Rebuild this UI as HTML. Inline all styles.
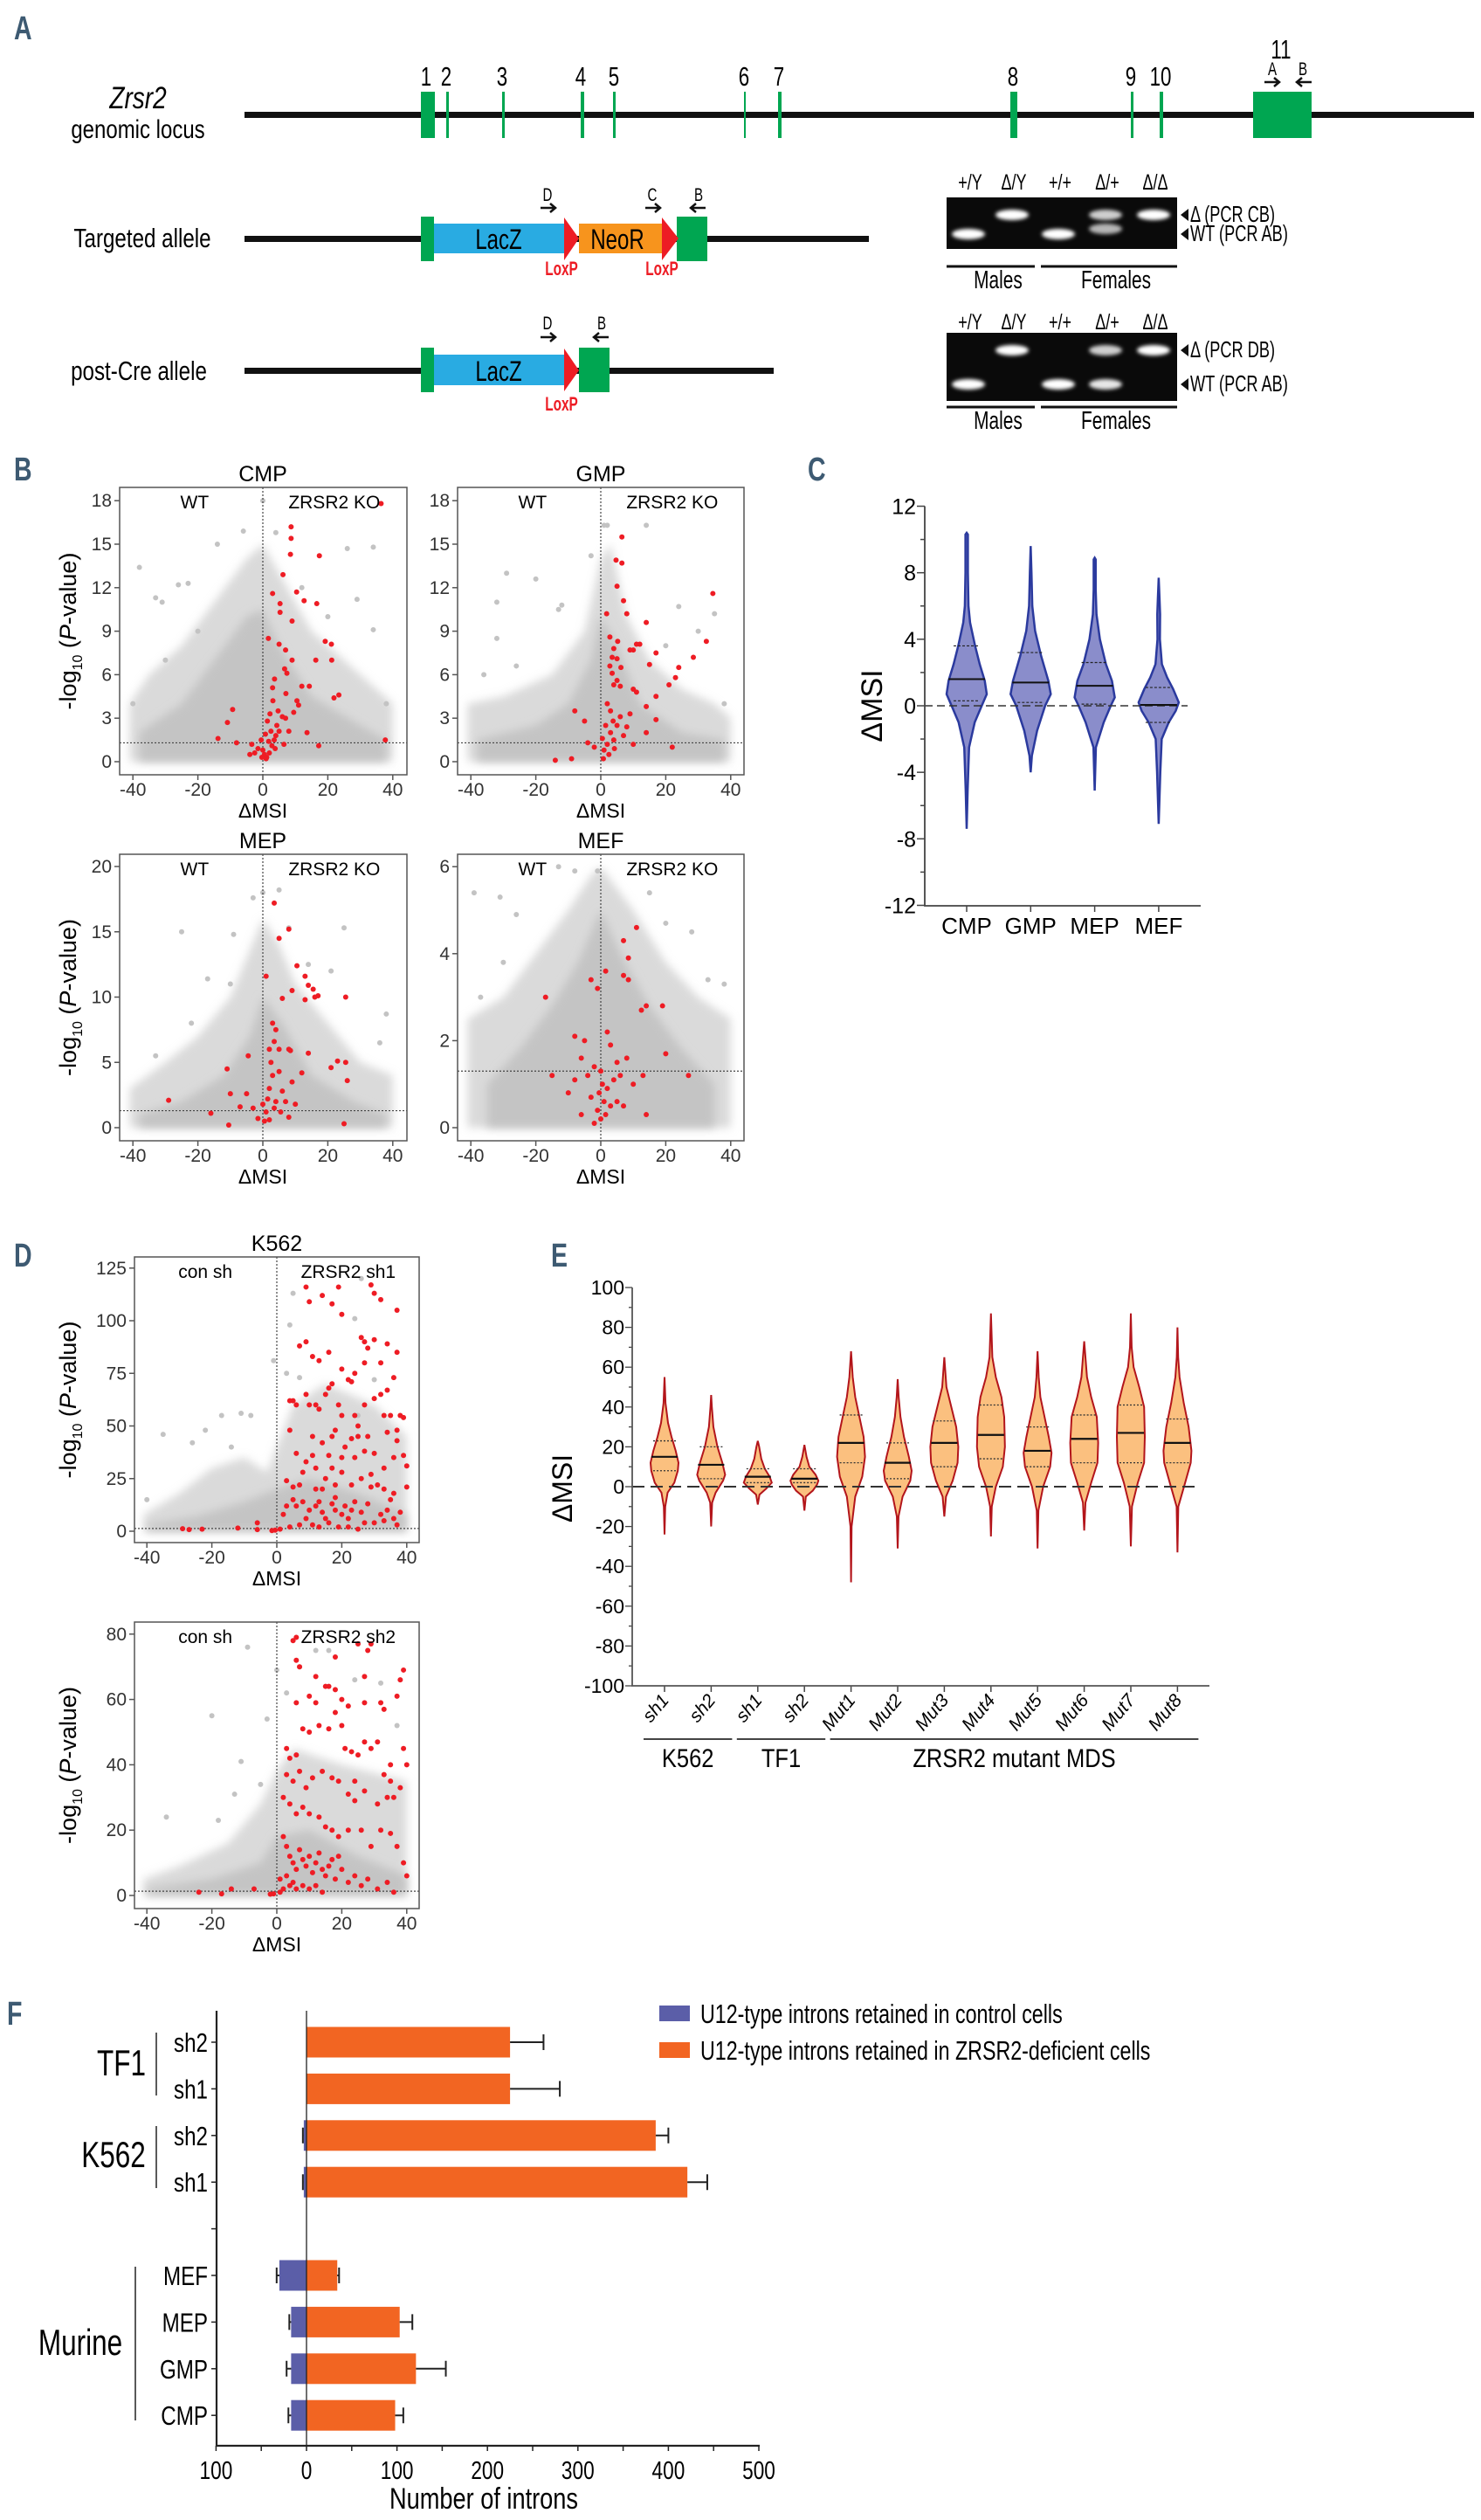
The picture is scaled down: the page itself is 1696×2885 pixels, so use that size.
<!DOCTYPE html>
<html><head><meta charset="utf-8"><style>
html,body{margin:0;padding:0;background:#fff}
svg{display:block}
text{font-family:"Liberation Sans",Arial,sans-serif}
.pl{font-family:"Liberation Sans",sans-serif;font-weight:bold;fill:#3d5a72;font-size:38px}
</style></head><body>
<svg id="fig" xmlns="http://www.w3.org/2000/svg" width="1696" height="2885" viewBox="0 0 1696 2885">
<defs><filter id="blur" x="-50%" y="-100%" width="200%" height="300%"><feGaussianBlur stdDeviation="2.2"/></filter>
<filter id="cloud" x="-20%" y="-20%" width="140%" height="140%"><feGaussianBlur stdDeviation="5"/></filter></defs>
<!-- Panel letters -->
<text class="pl" transform="translate(16,45) scale(0.75,1)">A</text>
<text class="pl" transform="translate(16,550) scale(0.75,1)">B</text>
<text class="pl" transform="translate(925,550) scale(0.75,1)">C</text>
<text class="pl" transform="translate(16,1450) scale(0.75,1)">D</text>
<text class="pl" transform="translate(631,1450) scale(0.75,1)">E</text>
<text class="pl" transform="translate(8,2318) scale(0.75,1)">F</text>

<!-- Panel A: genomic locus -->
<g>
<text transform="translate(158,124) scale(0.8,1)" text-anchor="middle" font-size="35" font-style="italic">Zrsr2</text>
<text transform="translate(158,158) scale(0.8,1)" text-anchor="middle" font-size="30">genomic locus</text>
<rect x="280" y="128" width="1408" height="7" fill="#111"/>
<g fill="#00a651">
<rect x="482" y="105" width="16" height="53"/>
<rect x="511" y="105" width="3" height="53"/>
<rect x="575" y="105" width="3" height="53"/>
<rect x="665" y="105" width="4" height="53"/>
<rect x="702" y="105" width="3" height="53"/>
<rect x="852" y="105" width="2" height="53"/>
<rect x="891" y="105" width="4" height="53"/>
<rect x="1157" y="105" width="8" height="53"/>
<rect x="1295" y="105" width="3" height="53"/>
<rect x="1328" y="105" width="4" height="53"/>
<rect x="1435" y="105" width="67" height="53"/>
</g>
<g font-size="31" text-anchor="middle">
<text transform="translate(488,98) scale(0.72,1)">1</text>
<text transform="translate(511,98) scale(0.72,1)">2</text>
<text transform="translate(575,98) scale(0.72,1)">3</text>
<text transform="translate(665,98) scale(0.72,1)">4</text>
<text transform="translate(703,98) scale(0.72,1)">5</text>
<text transform="translate(852,98) scale(0.72,1)">6</text>
<text transform="translate(892,98) scale(0.72,1)">7</text>
<text transform="translate(1160,98) scale(0.72,1)">8</text>
<text transform="translate(1295,98) scale(0.72,1)">9</text>
<text transform="translate(1329,98) scale(0.72,1)">10</text>
<text transform="translate(1467,67) scale(0.72,1)">11</text>
</g>
<text transform="translate(1457,86) scale(0.72,1)" text-anchor="middle" font-size="21">A</text>
<text transform="translate(1492,86) scale(0.72,1)" text-anchor="middle" font-size="21">B</text>
<path d="M1448,94 H1464 M1459,89 L1465,94 L1459,99" stroke="#111" stroke-width="2.5" fill="none"/>
<path d="M1502,94 H1486 M1491,89 L1485,94 L1491,99" stroke="#111" stroke-width="2.5" fill="none"/>
</g>

<!-- Targeted allele -->
<g>
<text transform="translate(163,283) scale(0.78,1)" text-anchor="middle" font-size="31">Targeted allele</text>
<rect x="280" y="270" width="715" height="7" fill="#111"/>
<rect x="497" y="256" width="149" height="34" fill="#29abe2"/>
<rect x="663" y="256" width="95" height="34" fill="#f7941d"/>
<rect x="482" y="248" width="15" height="51" fill="#00a651"/>
<rect x="775" y="248" width="35" height="51" fill="#00a651"/>
<polygon points="646,249 663,273 646,298" fill="#ed1c24"/>
<polygon points="758,249 777,273 758,298" fill="#ed1c24"/>
<text transform="translate(571,285) scale(0.75,1)" text-anchor="middle" font-size="32">LacZ</text>
<text transform="translate(707,285) scale(0.75,1)" text-anchor="middle" font-size="32">NeoR</text>
<text transform="translate(643,315) scale(0.7,1)" text-anchor="middle" font-size="22" font-weight="bold" fill="#ed1c24">LoxP</text>
<text transform="translate(758,315) scale(0.7,1)" text-anchor="middle" font-size="22" font-weight="bold" fill="#ed1c24">LoxP</text>
<text transform="translate(627,230) scale(0.72,1)" text-anchor="middle" font-size="21">D</text>
<text transform="translate(747,230) scale(0.72,1)" text-anchor="middle" font-size="21">C</text>
<text transform="translate(800,230) scale(0.72,1)" text-anchor="middle" font-size="21">B</text>
<path d="M619,238 H635 M630,233 L636,238 L630,243 M739,238 H755 M750,233 L756,238 L750,243 M808,238 H792 M797,233 L791,238 L797,243" stroke="#111" stroke-width="2.5" fill="none"/>
</g>

<!-- post-Cre allele -->
<g>
<text transform="translate(159,435) scale(0.78,1)" text-anchor="middle" font-size="31">post-Cre allele</text>
<rect x="280" y="421" width="606" height="7" fill="#111"/>
<rect x="497" y="406" width="149" height="35" fill="#29abe2"/>
<rect x="482" y="398" width="15" height="51" fill="#00a651"/>
<rect x="663" y="398" width="35" height="51" fill="#00a651"/>
<polygon points="646,399 663,424 646,448" fill="#ed1c24"/>
<text transform="translate(571,436) scale(0.75,1)" text-anchor="middle" font-size="32">LacZ</text>
<text transform="translate(643,470) scale(0.7,1)" text-anchor="middle" font-size="22" font-weight="bold" fill="#ed1c24">LoxP</text>
<text transform="translate(627,377) scale(0.72,1)" text-anchor="middle" font-size="21">D</text>
<text transform="translate(689,377) scale(0.72,1)" text-anchor="middle" font-size="21">B</text>
<path d="M619,386 H635 M630,381 L636,386 L630,391 M697,386 H681 M686,381 L680,386 L686,391" stroke="#111" stroke-width="2.5" fill="none"/>
</g>
<g id="gels"></g>

<g id="panelB"></g>
<g id="panelC"></g>
<g id="panelD"></g>
<g id="panelE"></g>
<g id="panelF"></g>
</svg>
<script>
const NS="http://www.w3.org/2000/svg";
function mk(tag,attrs,parent,txt){const e=document.createElementNS(NS,tag);for(const k in attrs)e.setAttribute(k,attrs[k]);if(txt!==undefined)e.textContent=txt;parent.appendChild(e);return e;}

/* ---------------- Gels ---------------- */
const gelLanes=["+/Y","Δ/Y","+/+","Δ/+","Δ/Δ"];
const gel1Upper=[0,1,0,0.8,1];
const gel1Lower=[1,0,1,0.7,0];
const gel2Upper=[0,1,0,0.8,1];
const gel2Lower=[1,0,1,0.9,0];
(function(){
  const g=document.getElementById('gels');
  const laneX=[1109,1159,1212,1266,1321];
  function gel(top,h,up,lo,upY,loY,labUp,labLo,lineY,textY,lab){
    const r=mk('rect',{x:1084,y:top,width:264,height:h,fill:'#0a0a0a'},g);
    
    
    gelLanes.forEach((l,i)=>{
      const t=mk('text',{transform:`translate(${laneX[i]+2},${lab}) scale(0.72,1)`,'text-anchor':'middle','font-size':25},g,l);
      
      
      if(up[i]>0){const b=mk('ellipse',{cx:laneX[i],cy:upY,rx:19,ry:6,fill:'#fff','fill-opacity':up[i],filter:'url(#blur)'},g);
        
        }
      if(lo[i]>0){const b=mk('ellipse',{cx:laneX[i],cy:loY-(i==3&&top<300?6:0),rx:19,ry:6,fill:'#fff','fill-opacity':lo[i],filter:'url(#blur)'},g);
        
        }
    });
    [[upY,labUp],[loY,labLo]].forEach(([y,s])=>{
      const p=mk('polygon',{points:`1361,${y-7} 1361,${y+7} 1352,${y}`,fill:'#111'},g);
      
      
      const t=mk('text',{transform:`translate(1363,${y+8}) scale(0.7,1)`,'font-size':26},g,s);
      
      
    });
    const l1=mk('line',{x1:1084,x2:1185,y1:lineY,y2:lineY,stroke:'#111','stroke-width':3},g);
    
    
    const l2=mk('line',{x1:1192,x2:1348,y1:lineY,y2:lineY,stroke:'#111','stroke-width':3},g);
    
    
    const m=mk('text',{transform:`translate(1143,${textY}) scale(0.72,1)`,'text-anchor':'middle','font-size':29},g,'Males');
    
    
    const f=mk('text',{transform:`translate(1278,${textY}) scale(0.72,1)`,'text-anchor':'middle','font-size':29},g,'Females');
    
    
  }
  gel(226,59,gel1Upper,gel1Lower,246,268,'Δ (PCR CB)','WT (PCR AB)',305,330,217);
  gel(381,78,gel2Upper,gel2Lower,401,440,'Δ (PCR DB)','WT (PCR AB)',466,491,377);
})();

/* ---------------- Volcano data ---------------- */
const cmpOuter=[[-41,0],[-41,4],[-35,6],[-25,8],[-15,11],[-5,14],[0,15],[5,13],[15,9],[25,7],[35,5],[40,4],[40,0]];
const cmpInner=[[-38,0],[-38,2],[-25,4],[-15,7],[-5,10],[0,10.5],[5,8],[15,4.5],[30,2.5],[38,1.5],[38,0]];
const cmpGrey=[[-38,13.4],[-33,11.3],[-31,11],[-26,12.2],[-23,12.3],[-14,15],[-6,15.9],[0,18],[4,15.8],[26,14.7],[34,14.8],[29,11.2],[34,9.1],[-40,4],[38,4],[-30,7],[-20,9],[12,12],[20,10]];
const cmpRed=[[8.7,16.2],[8.7,15.4],[8.5,14.3],[17.4,14.2],[6.2,12.9],[3,11.6],[10.4,11.7],[12.7,11.1],[16.6,10.9],[5.3,10.9],[5.3,10.3],[9,9.7],[1.7,8.5],[19.2,8.3],[21.1,8.1],[5,8.1],[7,7.7],[9,7],[16.3,7],[21.2,7],[6.7,6.4],[7.4,6.1],[3.6,5.7],[3,5.1],[12,5.2],[14.3,5.2],[23.4,4.6],[21.9,4.4],[11,3.9],[3.1,4.2],[7.1,4.7],[-9.3,3.6],[-10.9,2.7],[13.6,2],[1.4,2.8],[4.3,2.5],[-13.8,1.6],[-8.1,1.3],[17.2,1.1],[37.7,1.5],[36.4,17.8],[0,0.8],[0.5,0.5],[1.2,0.3],[2,0.6],[2.8,1.1],[-0.3,0.3],[1,0.2],[3.5,1.5],[5,2.1],[2.5,2.1],[4,1.8],[6,3.1],[7,3],[-0.5,1.5],[-2.5,0.6],[-4,0.5],[-3.4,1.2],[8,2.1],[9.5,3.4],[10.5,4.2],[1.8,1.4],[0.8,1.9],[3.8,0.9],[6.5,1.2],[2.2,3.3],[4.7,3.5],[-1.5,0.9]];

const gmpOuter=[[-41,0],[-41,4],[-30,4.5],[-15,6],[-5,9],[0,14],[3,15],[8,10],[15,7],[25,5],[35,4],[40,3],[40,0]];
const gmpInner=[[-38,0],[-38,1.5],[-20,2.5],[-10,4],[-3,7],[0,10],[5,8],[12,4],[25,2],[38,1.5],[38,0]];
const gmpGrey=[[-29,13],[-32,11],[-32,8.5],[-20,12.6],[-13,10.5],[-12,10.8],[-3,14.2],[1,16.3],[2,16.3],[14,16.3],[24,10.7],[35,10.2],[-36,6],[-26,6.6],[30,9],[20,8],[38,4]];
const gmpRed=[[6.5,15.5],[4.7,13.9],[6.5,13.7],[5,12.1],[7,11.1],[1.8,10.2],[8,10.2],[14,9.6],[34.5,11.6],[32.5,8.3],[28.5,7.2],[2.8,8.6],[5.2,8.3],[4,7.8],[3.5,7.2],[5,7.1],[11,8.1],[12,8.1],[9,7.7],[10,7.7],[17,7.5],[2.8,6.6],[6.2,6.5],[15,6.7],[24,6.5],[3.5,6.1],[5,5.6],[4,5.3],[6,5.2],[10,5],[11,4.8],[17,4.5],[21,5.3],[23,5.8],[14,3.8],[2,4],[3,3.5],[-8,3.5],[17,2.9],[-5,2.8],[14,2],[-9,0.2],[-14,0.1],[22,1],[10,1.2],[1,0.8],[2,1.2],[3,2],[1.5,2.5],[0.5,1.6],[2.5,0.5],[4,1.5],[5,2.5],[6,3.1],[7,1.8],[8,2.4],[3.8,2.8],[-2,1],[-4,1.3],[0.8,0.2],[4.2,0.9],[9,3.3]];

const mepOuter=[[-41,0],[-41,3],[-30,5],[-20,7],[-10,10],[0,16],[5,14],[10,11],[20,8],[30,5],[40,4],[40,0]];
const mepInner=[[-38,0],[-38,1],[-25,2],[-12,4],[-4,7],[0,10],[6,8],[15,4],[28,2],[38,1],[38,0]];
const mepGrey=[[-25,15],[-9,14.8],[-3,17.6],[0,18],[5,18.2],[8,15.3],[25,15.3],[-17,11.4],[-10,11],[-33,5.5],[36,6.5],[38,8.7],[21,12],[14,12.5],[-22,8]];
const mepRed=[[3.5,17.2],[5,14.5],[8,15.2],[10.5,12.4],[13,11.6],[14,10.9],[15.5,10.6],[17,10.1],[25.5,10],[1,11.6],[6,9.9],[9,10.5],[13,9.8],[16,10],[3,8],[4,7.5],[3.5,6.6],[5,6],[2,6],[8,6],[8.5,5.9],[14,5.7],[23,5.1],[25.5,5],[21,4.6],[26,3.6],[-4.5,5.5],[-11,4.5],[-10,2.6],[-5,2.6],[-29,2.1],[-16,1.1],[-7,1.6],[-10.5,0.2],[25,0.3],[12,4.2],[9,3.5],[6,2.8],[3,4],[2,3],[4,2],[1,1.2],[0.5,0.5],[2,0.6],[3.5,1.5],[5.5,1.2],[7,2],[1.5,2.2],[0,1.8],[-1.5,0.7],[5,4.3],[10,1.8],[8,0.8],[-3,1.5],[2.5,5]];

const mefOuter=[[-41,0],[-41,2.5],[-30,3],[-20,4],[-10,5],[-3,5.8],[0,6],[5,5.5],[10,5],[20,3.8],[30,3],[40,2.5],[40,0]];
const mefInner=[[-35,0],[-35,1],[-25,1.8],[-15,2.8],[-7,3.8],[0,5],[6,4],[15,2.8],[25,1.8],[35,1],[35,0]];
const mefGrey=[[-39,5.4],[-31,5.3],[-13,6],[-8,5.9],[-1,5.9],[12,5.9],[15,5.4],[-30,3.8],[33,3.4],[38,3.3],[-37,3],[28,4.5],[20,4.7],[-26,4.9]];
const mefRed=[[11,4.6],[7,4.3],[8.5,3.9],[7,3.5],[8.5,3.4],[1.5,3.6],[-3,3.4],[-1,3.2],[-17,3],[14,2.8],[12.5,2.7],[19,2.8],[20,1.7],[27,1.2],[-8,2.1],[-6,1.6],[-5,2],[3,1.9],[5,1.5],[2,2.2],[-15,1.2],[-10,0.8],[13,1.2],[14,0.3],[-4,1.2],[-2,1.4],[0,1.3],[4,1.1],[6,1.2],[8,1.6],[-1,0.4],[0,0.2],[1,0.6],[-0.5,0.8],[1.5,0.3],[2,0.9],[-2,0.1],[3,0.5],[-3,0.7],[0.5,1],[-6,0.3],[5,0.6],[10,1],[-8,1.1],[7,0.5]];

const sh1Outer=[[-41,0],[-41,8],[-30,18],[-20,30],[-10,35],[-3,28],[0,40],[5,60],[15,70],[30,60],[40,45],[40,0]];
const sh1Inner=[[-40,0],[-40,3],[-25,7],[-10,14],[0,20],[10,25],[25,18],[40,8],[40,0]];
const sh1Grey=[[-35,46],[-26,42],[-17,55],[-11,56],[-8,55],[-1,81],[4,98],[5,113],[24,101],[26,120],[-40,15],[3,75],[-22,48],[-14,40],[7,73],[30,72],[25,55]];
const sh1Red=[[9,116],[10,109],[14,112],[17,108],[19,116],[20,103],[29,117],[30,113],[32,110],[37,105],[7,88],[9,90],[11,83],[13,81],[16,85],[20,77],[22,72],[23,71],[24,75],[26,92],[27,90],[28,87],[27,80],[30,91],[32,80],[34,89],[37,85],[36,73],[17,70],[15,65],[16,68],[10,60],[12,60],[19,60],[13,58],[4,62],[5,62],[6,60],[9,65],[20,55],[24,55],[27,60],[30,63],[32,65],[34,67],[25,50],[28,45],[33,55],[35,55],[38,55],[39,54],[37,48],[34,47],[4,48],[6,37],[9,33],[11,36],[14,42],[17,45],[18,48],[21,40],[23,44],[25,45],[12,30],[15,25],[17,30],[20,35],[24,35],[27,38],[30,37],[33,30],[36,35],[39,36],[40,31],[3,24],[5,21],[7,22],[8,28],[14,20],[18,22],[23,22],[26,25],[29,21],[31,22],[33,20],[36,18],[40,21],[5,15],[6,12],[8,14],[10,10],[12,12],[13,14],[14,9],[15,6],[17,13],[18,10],[20,8],[21,12],[22,6],[23,10],[24,14],[26,9],[28,13],[30,4],[32,8],[34,10],[36,6],[38,9],[2,8],[4,2],[7,3],[9,6],[11,3],[13,2],[16,4],[19,2],[22,2],[25,1],[27,4],[33,5],[37,3],[1,1],[-0.5,0.5],[-1.5,0.3],[-6,4],[-6,0.8],[-12,1.5],[-23,1],[-27,0.8],[-29,1.2],[12,20],[18,16],[35,15],[3,12],[11,45],[29,27],[16,36],[20,28],[37,43]];

const sh2Outer=[[-41,0],[-41,5],[-30,9],[-15,16],[-5,28],[0,38],[5,45],[20,40],[40,35],[40,0]];
const sh2Inner=[[-40,0],[-40,2],[-20,5],[-5,10],[0,18],[10,20],[25,12],[40,6],[40,0]];
const sh2Grey=[[-9,76],[-20,55],[-3,54],[-11,41],[-13,31],[-34,24],[-18,23],[0,69],[7,70],[12,75],[16,75],[3,62],[32,65],[37,52],[-5,34],[24,66]];
const sh2Red=[[6,79],[5,78],[6,72],[7,70],[25,77],[29,77],[18,73],[39,69],[38,66],[27,67],[28,75],[12,67],[16,64],[15,64],[18,63],[6,59],[12,59],[10,61],[20,60],[22,58],[27,59],[32,59],[37,61],[3,45],[4,42],[6,43],[8,51],[10,50],[13,52],[16,51],[18,56],[20,52],[21,45],[23,44],[25,43],[27,47],[29,45],[31,47],[33,37],[35,35],[36,30],[38,33],[40,40],[39,45],[3,37],[5,35],[7,38],[9,33],[11,36],[14,38],[17,36],[19,35],[22,31],[24,35],[27,32],[31,28],[34,30],[2,30],[4,28],[6,25],[8,27],[10,25],[13,24],[15,21],[17,20],[19,18],[22,20],[26,20],[29,15],[32,20],[35,19],[37,15],[39,10],[2,18],[3,15],[4,12],[5,10],[6,8],[7,14],[8,11],[9,9],[10,12],[11,7],[12,10],[13,13],[14,8],[15,6],[16,9],[17,11],[18,5],[19,12],[20,8],[22,4],[24,6],[26,3],[28,5],[31,2],[34,4],[36,1],[40,6],[1,5],[2,2],[3,6],[4,3],[5,4],[6,2],[8,3],[10,2],[12,3],[14,1],[-1,0.5],[-2,0.4],[-7,2],[-14,2],[-17,0.5],[-24,1],[35,40],[33,57],[24,29],[1,1]];

const volcanoXTicks=[-40,-20,0,20,40];
const cmpYTicks=[0,3,6,9,12,15,18];
const mepYTicks=[0,5,10,15,20];
const mefYTicks=[0,2,4,6];
const sh1YTicks=[0,25,50,75,100,125];
const sh2YTicks=[0,20,40,60,80];

function volcano(parent,o){
  const g=mk('g',{},parent);
  
  
  const X=v=>o.x0+v*o.xs, Y=v=>o.y0-v*o.ys;
  const clipId='clip-'+o.name;
  const cp=mk('clipPath',{id:clipId},g);
  mk('rect',{x:o.l,y:o.t,width:o.rr-o.l,height:o.b-o.t},cp);
  const cg=mk('g',{'clip-path':`url(#${clipId})`},g);
  
  
  const poly=(arr,op,nm)=>{const p=mk('polygon',{points:arr.map(d=>X(d[0])+','+Y(d[1])).join(' '),fill:'#c2c2c2','fill-opacity':op,filter:'url(#cloud)'},cg);
    
    };
  poly(o.outer,0.6,'grey-point-cloud-outer');
  poly(o.inner,0.9,'grey-point-cloud-dense');
  o.grey.forEach(d=>{const c=mk('circle',{cx:X(d[0]),cy:Y(d[1]),r:o.r,fill:'#c3c3c3'},g);
    
    });
  const vl=mk('line',{x1:X(0),x2:X(0),y1:o.t,y2:o.b,stroke:'#444','stroke-width':1.2,'stroke-dasharray':'2,2'},g);
  
  
  const hl=mk('line',{x1:o.l,x2:o.rr,y1:Y(1.3),y2:Y(1.3),stroke:'#444','stroke-width':1.2,'stroke-dasharray':'2,2'},g);
  
  
  o.red.forEach(d=>{const c=mk('circle',{cx:X(d[0]),cy:Y(d[1]),r:o.r,fill:'#ee1c24'},g);
    
    });
  const box=mk('rect',{x:o.l,y:o.t,width:o.rr-o.l,height:o.b-o.t,fill:'none',stroke:'#555','stroke-width':1.5},g);
  
  
  volcanoXTicks.forEach(v=>{
    const tk=mk('line',{x1:X(v),x2:X(v),y1:o.b,y2:o.b+6,stroke:'#555','stroke-width':1.5},g);
    
    
    const t=mk('text',{x:X(v),y:o.b+24,'text-anchor':'middle','font-size':o.fs,fill:'#333'},g,String(v));
    
    });
  o.yticks.forEach(v=>{
    const tk=mk('line',{x1:o.l-6,x2:o.l,y1:Y(v),y2:Y(v),stroke:'#555','stroke-width':1.5},g);
    
    
    const t=mk('text',{x:o.l-9,y:Y(v)+7,'text-anchor':'end','font-size':o.fs,fill:'#333'},g,String(v));
    
    });
  const xt=mk('text',{x:X(0),y:o.b+49,'text-anchor':'middle','font-size':o.fs+2},g,'ΔMSI');
  
  
  if(o.title){const tt=mk('text',{x:X(0),y:o.t-7,'text-anchor':'middle','font-size':25},g,o.title);
    
    }
  const a=mk('text',{x:X(o.lx[0]),y:o.t+24,'text-anchor':'middle','font-size':o.fs},g,o.labs[0]);
  
  
  const b=mk('text',{x:X(o.lx[1]),y:o.t+24,'text-anchor':'middle','font-size':o.fs},g,o.labs[1]);
  
  
  if(o.ytitle){
    const yt=mk('text',{transform:`translate(87,${(o.t+o.b)/2}) rotate(-90)`,'text-anchor':'middle','font-size':27},g);
    
    
    mk('tspan',{},yt,'-log');
    mk('tspan',{'font-size':16,dy:7},yt,'10');
    mk('tspan',{dy:-7},yt,'  (');
    mk('tspan',{'font-style':'italic'},yt,'P');
    mk('tspan',{},yt,'-value)');
  }
}
const pB=document.getElementById('panelB');
volcano(pB,{name:'volcano-cmp',title:'CMP',l:137,rr:466,t:558,b:887,x0:301,xs:3.72,y0:872,ys:16.6,yticks:cmpYTicks,outer:cmpOuter,inner:cmpInner,grey:cmpGrey,red:cmpRed,r:3,fs:21,lx:[-21,22],labs:['WT','ZRSR2 KO'],ytitle:true});
volcano(pB,{name:'volcano-gmp',title:'GMP',l:524,rr:852,t:558,b:887,x0:688,xs:3.72,y0:872,ys:16.6,yticks:cmpYTicks,outer:gmpOuter,inner:gmpInner,grey:gmpGrey,red:gmpRed,r:3,fs:21,lx:[-21,22],labs:['WT','ZRSR2 KO']});
volcano(pB,{name:'volcano-mep',title:'MEP',l:137,rr:466,t:978,b:1306,x0:301,xs:3.72,y0:1291,ys:14.95,yticks:mepYTicks,outer:mepOuter,inner:mepInner,grey:mepGrey,red:mepRed,r:3,fs:21,lx:[-21,22],labs:['WT','ZRSR2 KO'],ytitle:true});
volcano(pB,{name:'volcano-mef',title:'MEF',l:524,rr:852,t:978,b:1306,x0:688,xs:3.72,y0:1291,ys:49.8,yticks:mefYTicks,outer:mefOuter,inner:mefInner,grey:mefGrey,red:mefRed,r:3,fs:21,lx:[-21,22],labs:['WT','ZRSR2 KO']});
const pD=document.getElementById('panelD');
volcano(pD,{name:'volcano-k562-sh1',title:'K562',l:154,rr:480,t:1439,b:1766,x0:317,xs:3.72,y0:1753,ys:2.41,yticks:sh1YTicks,outer:sh1Outer,inner:sh1Inner,grey:sh1Grey,red:sh1Red,r:3,fs:21,lx:[-22,22],labs:['con sh','ZRSR2 sh1'],ytitle:true});
volcano(pD,{name:'volcano-k562-sh2',l:154,rr:480,t:1857,b:2185,x0:317,xs:3.72,y0:2170,ys:3.74,yticks:sh2YTicks,outer:sh2Outer,inner:sh2Inner,grey:sh2Grey,red:sh2Red,r:3,fs:21,lx:[-22,22],labs:['con sh','ZRSR2 sh2'],ytitle:true});

/* ---------------- Violins ---------------- */
function violinPath(prof,cx,Y,w){
  const right=prof.map(d=>(cx+d[1]*w)+','+Y(d[0]));
  const left=prof.slice().reverse().map(d=>(cx-d[1]*w)+','+Y(d[0]));
  return 'M'+right.join(' L')+' L'+left.join(' L')+' Z';
}
const cCats=['CMP','GMP','MEP','MEF'];
const cMedians=[1.6,1.4,1.2,0.05];
const cQ1=[0.3,0.2,0.1,-1.0];
const cQ3=[3.6,3.2,2.6,1.1];
const cProfiles=[
 [[-7.4,0],[-5,0.05],[-2.5,0.12],[-1,0.4],[0,0.75],[0.7,1],[1.5,0.9],[2.5,0.65],[3.6,0.42],[5,0.17],[6,0.09],[8,0.06],[10.3,0.06],[10.4,0]],
 [[-4,0],[-3,0.06],[-1.5,0.32],[0,0.72],[0.7,1],[1.5,0.88],[3,0.52],[4.5,0.22],[6,0.08],[8,0.04],[9.6,0]],
 [[-5.1,0],[-2.5,0.06],[-1,0.45],[0,0.8],[0.5,1],[1.5,0.86],[2.5,0.56],[4,0.26],[5.5,0.09],[7,0.05],[8.8,0.05],[8.9,0]],
 [[-7.1,0],[-4,0.08],[-2,0.15],[-1,0.5],[-0.3,0.85],[0.2,1],[1,0.72],[1.7,0.42],[2.5,0.16],[4,0.06],[5.5,0.07],[6.5,0.04],[7.7,0]]];
const cYTicks=[12,8,4,0,-4,-8,-12];
(function(){
  const g=document.getElementById('panelC');
  const ax=1059, Y=v=>808-v*19.04, X=i=>1107+i*73.3;
  cProfiles.forEach((p,i)=>{
    const v=mk('path',{d:violinPath(p,X(i),Y,23),fill:'#8a8dcb',stroke:'#2b3a9e','stroke-width':2.5},g);
    
    
  });
  const z=mk('line',{x1:ax,x2:1360,y1:Y(0),y2:Y(0),stroke:'#333','stroke-width':1.5,'stroke-dasharray':'9,5'},g);
  
  
  cCats.forEach((c,i)=>{
    const m=mk('line',{x1:X(i)-21,x2:X(i)+21,y1:Y(cMedians[i]),y2:Y(cMedians[i]),stroke:'#111','stroke-width':2},g);
    
    
    [cQ1[i],cQ3[i]].forEach(q=>{const l=mk('line',{x1:X(i)-15,x2:X(i)+15,y1:Y(q),y2:Y(q),stroke:'#222','stroke-width':1.2,'stroke-dasharray':'3,2'},g);
      
      });
    const tk=mk('line',{x1:X(i),x2:X(i),y1:1037,y2:1044,stroke:'#444','stroke-width':1.5},g);
    
    
    const t=mk('text',{x:X(i),y:1069,'text-anchor':'middle','font-size':26},g,c);
    
    
  });
  for(let v=-12;v<=12;v+=2){const tk=mk('line',{x1:ax-(v%4==0?9:5),x2:ax,y1:Y(v),y2:Y(v),stroke:'#444','stroke-width':1.5},g);
    
    }
  cYTicks.forEach(v=>{const t=mk('text',{x:ax-10,y:Y(v)+9,'text-anchor':'end','font-size':25},g,String(v));
    
    });
  const a=mk('path',{d:`M${ax},${Y(12)} V1037 H1375`,fill:'none',stroke:'#444','stroke-width':1.8},g);
  
  
  const yt=mk('text',{transform:`translate(1010,808) rotate(-90)`,'text-anchor':'middle','font-size':34},g,'ΔMSI');
  
  
})();

const eCats=['sh1','sh2','sh1','sh2','Mut1','Mut2','Mut3','Mut4','Mut5','Mut6','Mut7','Mut8'];
const eMedians=[15,11,5,4,22,12,22,26,18,24,27,22];
const eQ1=[8,4,2,2,12,4,10,14,10,12,12,12];
const eQ3=[23,20,9,9,36,22,33,41,30,36,41,34];
const eProfiles=[
 [[-24,0],[-10,0.05],[-3,0.22],[2,0.7],[8,0.95],[12,1],[18,0.8],[25,0.5],[32,0.25],[42,0.07],[55,0]],
 [[-20,0],[-8,0.07],[-3,0.32],[3,0.85],[6,1],[12,0.8],[20,0.45],[30,0.16],[40,0.05],[46,0]],
 [[-9,0],[-4,0.12],[-1,0.6],[2,1],[5,0.85],[9,0.5],[14,0.25],[20,0.1],[23,0]],
 [[-12,0],[-5,0.1],[-2,0.6],[1,0.9],[3,1],[6,0.8],[10,0.35],[15,0.15],[21,0]],
 [[-48,0],[-20,0.04],[-5,0.3],[5,0.8],[15,1],[25,0.9],[35,0.6],[45,0.3],[55,0.12],[68,0]],
 [[-31,0],[-15,0.06],[-5,0.35],[3,0.9],[8,1],[15,0.8],[25,0.45],[35,0.2],[45,0.07],[54,0]],
 [[-15,0],[-5,0.12],[3,0.6],[12,0.95],[20,1],[30,0.85],[40,0.5],[50,0.15],[65,0]],
 [[-25,0],[-10,0.06],[0,0.35],[10,0.85],[20,1],[35,0.95],[45,0.75],[55,0.35],[65,0.1],[87,0]],
 [[-31,0],[-12,0.06],[0,0.4],[10,0.9],[17,1],[25,0.8],[35,0.5],[45,0.2],[55,0.08],[68,0]],
 [[-22,0],[-8,0.09],[2,0.5],[12,0.95],[22,1],[35,0.9],[45,0.5],[55,0.2],[73,0]],
 [[-30,0],[-10,0.08],[2,0.5],[12,0.95],[25,1],[40,0.95],[50,0.6],[60,0.2],[70,0.06],[87,0]],
 [[-33,0],[-10,0.06],[2,0.55],[12,0.95],[18,1],[30,0.8],[42,0.45],[55,0.15],[65,0.05],[80,0]]];
const eYTicks=[100,80,60,40,20,0,-20,-40,-60,-80,-100];
const eGroups=['K562','TF1','ZRSR2 mutant MDS'];
(function(){
  const g=document.getElementById('panelE');
  const ax=724, Y=v=>1702-v*2.28, X=i=>761+i*53.4;
  eProfiles.forEach((p,i)=>{
    const v=mk('path',{d:violinPath(p,X(i),Y,16),fill:'#fbc07f',stroke:'#b3151b','stroke-width':2},g);
    
    
  });
  const z=mk('line',{x1:ax,x2:1375,y1:Y(0),y2:Y(0),stroke:'#333','stroke-width':2,'stroke-dasharray':'14,7'},g);
  
  
  eCats.forEach((c,i)=>{
    const m=mk('line',{x1:X(i)-15,x2:X(i)+15,y1:Y(eMedians[i]),y2:Y(eMedians[i]),stroke:'#111','stroke-width':2.2},g);
    
    
    [eQ1[i],eQ3[i]].forEach(q=>{const l=mk('line',{x1:X(i)-13,x2:X(i)+13,y1:Y(q),y2:Y(q),stroke:'#333','stroke-width':1.3,'stroke-dasharray':'2,2'},g);
      
      });
    const tk=mk('line',{x1:X(i),x2:X(i),y1:1930,y2:1937,stroke:'#444','stroke-width':1.5},g);
    
    
    const t=mk('text',{transform:`translate(${X(i)+6},${1947}) rotate(-50)`,'text-anchor':'end','font-size':21,'font-style':'italic'},g,c);
    
    
  });
  for(let v=-100;v<=100;v+=10){const tk=mk('line',{x1:ax-(v%20==0?8:4),x2:ax,y1:Y(v),y2:Y(v),stroke:'#444','stroke-width':1.3},g);
    
    }
  eYTicks.forEach(v=>{const t=mk('text',{x:ax-9,y:Y(v)+8,'text-anchor':'end','font-size':23},g,String(v));
    
    });
  const a=mk('path',{d:`M${ax},${Y(100)} V1930 H1385`,fill:'none',stroke:'#555','stroke-width':1.8},g);
  
  
  const yt=mk('text',{transform:`translate(655,1704) rotate(-90)`,'text-anchor':'middle','font-size':32},g,'ΔMSI');
  
  
  const spans=[[0,1],[2,3],[4,11]];
  spans.forEach((s,k)=>{
    const l=mk('line',{x1:X(s[0])-24,x2:X(s[1])+24,y1:1991,y2:1991,stroke:'#444','stroke-width':2},g);
    
    
    const t=mk('text',{transform:`translate(${(X(s[0])+X(s[1]))/2},2023) scale(0.85,1)`,'text-anchor':'middle','font-size':30},g,eGroups[k]);
    
    
  });
})();

/* ---------------- Panel F ---------------- */
const fCats=['sh2','sh1','sh2','sh1','','MEF','MEP','GMP','CMP'];
const fDeficient=[225,225,386,421,null,34,103,121,98];
const fDeficientErr=[262,280,400,443,null,36,117,154,107];
const fControl=[0,0,-3,-3,null,-30,-17,-17,-17];
const fControlErr=[0,0,-4,-4,null,-33,-19,-22,-20];
const fXTicks=[100,0,100,200,300,400,500];
const fXTickVals=[-100,0,100,200,300,400,500];
(function(){
  const g=document.getElementById('panelF');
  const X=v=>351+v*1.036, Yc=i=>2338+i*53.4, h=35;
  fCats.forEach((c,i)=>{
    if(fDeficient[i]!==null){
      const b=mk('rect',{x:X(0),y:Yc(i)-h/2,width:X(fDeficient[i])-X(0),height:h,fill:'#f26522'},g);
      
      
      const e=mk('path',{d:`M${X(fDeficient[i])},${Yc(i)} H${X(fDeficientErr[i])} M${X(fDeficientErr[i])},${Yc(i)-9} V${Yc(i)+9}`,stroke:'#222','stroke-width':2,fill:'none'},g);
      
      
      if(fControl[i]<0){
        const b2=mk('rect',{x:X(fControl[i]),y:Yc(i)-h/2,width:X(0)-X(fControl[i]),height:h,fill:'#5b5ea8'},g);
        
        
        const e2=mk('path',{d:`M${X(fControl[i])},${Yc(i)} H${X(fControlErr[i])} M${X(fControlErr[i])},${Yc(i)-9} V${Yc(i)+9}`,stroke:'#222','stroke-width':2,fill:'none'},g);
        
        
      }
    }
    const tk=mk('line',{x1:242,x2:248,y1:Yc(i),y2:Yc(i),stroke:'#222','stroke-width':1.5},g);
    
    
    if(c){const t=mk('text',{transform:`translate(238,${Yc(i)+11}) scale(0.78,1)`,'text-anchor':'end','font-size':31},g,c);
      
      }
  });
  const zl=mk('line',{x1:X(0),x2:X(0),y1:2302,y2:2800,stroke:'#222','stroke-width':1.3},g);
  
  
  const a=mk('path',{d:'M248,2302 V2800 H870',fill:'none',stroke:'#222','stroke-width':2.2},g);
  
  
  for(let v=-100;v<=500;v+=50){const tk=mk('line',{x1:X(v),x2:X(v),y1:2800,y2:2806,stroke:'#222','stroke-width':1.5},g);
    
    }
  fXTickVals.forEach((v,k)=>{const t=mk('text',{transform:`translate(${X(v)},2838) scale(0.78,1)`,'text-anchor':'middle','font-size':29},g,String(fXTicks[k]));
    
    });
  const xt=mk('text',{transform:'translate(554,2872) scale(0.8,1)','text-anchor':'middle','font-size':34},g,'Number of introns');
  
  
  [[179,2327,2399,'TF1',139,2376],[179,2434,2505,'K562',130,2481],[155,2595,2771,'Murine',92,2696]].forEach(d=>{
    const l=mk('line',{x1:d[0],x2:d[0],y1:d[1],y2:d[2],stroke:'#222','stroke-width':1.5},g);
    
    
    const t=mk('text',{transform:`translate(${d[4]},${d[5]}) scale(0.75,1)`,'text-anchor':'middle','font-size':42},g,d[3]);
    
    
  });
  const ls=mk('rect',{x:755,y:2296,width:35,height:18,fill:'#5b5ea8'},g);
  
  
  const lt=mk('text',{transform:'translate(802,2316) scale(0.75,1)','font-size':31},g,'U12-type introns retained in control cells');
  
  
  const ls2=mk('rect',{x:755,y:2338,width:35,height:18,fill:'#f26522'},g);
  
  
  const lt2=mk('text',{transform:'translate(802,2358) scale(0.75,1)','font-size':31},g,'U12-type introns retained in ZRSR2-deficient cells');
  
  
})();
</script>
</body></html>
